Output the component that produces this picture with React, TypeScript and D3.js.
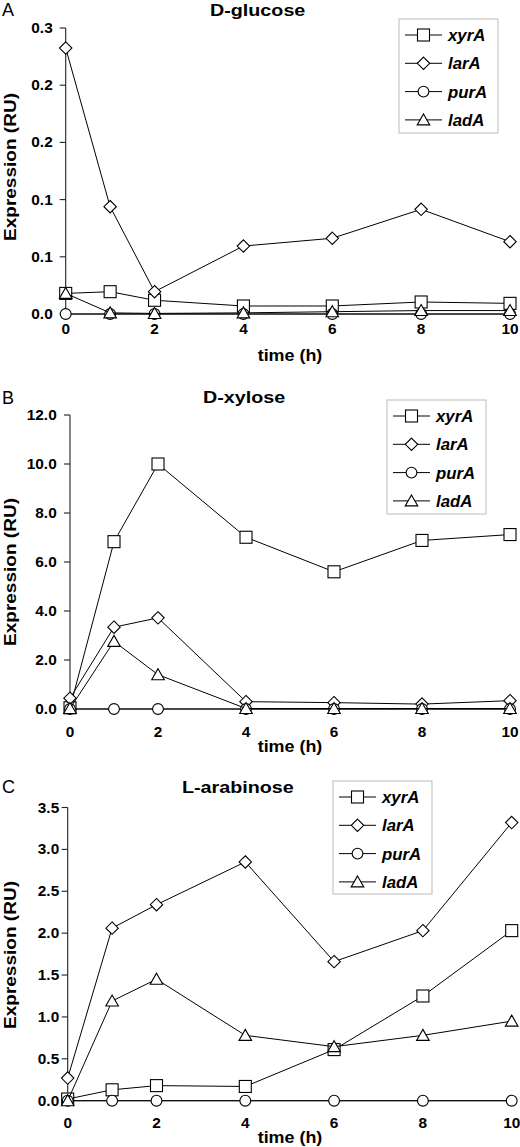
import React from "react";
import * as d3 from "d3";

// ---------- data ----------
const times = [0, 1, 2, 4, 6, 8, 10];
const seriesNames = ["xyrA", "larA", "purA", "ladA"];
const xTickValues = [0, 2, 4, 6, 8, 10];

// Panel A: D-glucose
const glucoseXyrA = [0.018, 0.0195, 0.012, 0.007, 0.007, 0.0105, 0.0093];
const glucoseLarA = [0.2325, 0.0938, 0.0195, 0.0594, 0.0662, 0.0915, 0.0632];
const glucosePurA = [0, 0, 0, 0, 0, 0, 0];
const glucoseLadA = [0.018, 0.001, 0.0005, 0.001, 0.002, 0.003, 0.003];
const glucoseYTicks = [0, 0.05, 0.1, 0.15, 0.2, 0.25];
const glucoseYLabels = ["0.0", "0.1", "0.1", "0.2", "0.2", "0.3"];

// Panel B: D-xylose
const xyloseXyrA = [0.05, 6.83, 10.0, 7.01, 5.6, 6.88, 7.12];
const xyloseLarA = [0.44, 3.34, 3.72, 0.3, 0.26, 0.2, 0.34];
const xylosePurA = [0, 0, 0, 0, 0, 0, 0];
const xyloseLadA = [0.02, 2.76, 1.4, 0.02, 0.02, 0.02, 0.02];
const xyloseYTicks = [0, 2, 4, 6, 8, 10, 12];
const xyloseYLabels = ["0.0", "2.0", "4.0", "6.0", "8.0", "10.0", "12.0"];

// Panel C: L-arabinose
const arabXyrA = [0.02, 0.13, 0.18, 0.17, 0.61, 1.25, 2.03];
const arabLarA = [0.27, 2.06, 2.34, 2.85, 1.66, 2.03, 3.32];
const arabPurA = [0, 0, 0, 0, 0, 0, 0];
const arabLadA = [0.0, 1.19, 1.45, 0.78, 0.645, 0.78, 0.95];
const arabYTicks = [0, 0.5, 1.0, 1.5, 2.0, 2.5, 3.0, 3.5];
const arabYLabels = ["0.0", "0.5", "1.0", "1.5", "2.0", "2.5", "3.0", "3.5"];

// ---------- layout ----------
const panels = [
  {
    letter: "A", title: "D-glucose", titleX: 210, titleY: 15.5, letterY: 16,
    xL: 65.7, xR: 510, yT: 28, yB: 314, yMax: 0.25,
    yTicks: glucoseYTicks, yLabels: glucoseYLabels, labelGap: 13,
    xTickBase: 334, timeBase: 361, yLabelCy: 167,
    legend: { x: 399, y: 19, w: 99, h: 114, y0: 35 },
    data: [glucoseXyrA, glucoseLarA, glucosePurA, glucoseLadA],
  },
  {
    letter: "B", title: "D-xylose", titleX: 203, titleY: 403, letterY: 404,
    xL: 70, xR: 510, yT: 415, yB: 709, yMax: 12,
    yTicks: xyloseYTicks, yLabels: xyloseYLabels, labelGap: 13.3,
    xTickBase: 737, timeBase: 752, yLabelCy: 572,
    legend: { x: 387, y: 400, w: 99, h: 114, y0: 416 },
    data: [xyloseXyrA, xyloseLarA, xylosePurA, xyloseLadA],
  },
  {
    letter: "C", title: "L-arabinose", titleX: 182, titleY: 793, letterY: 793,
    xL: 67.7, xR: 511.7, yT: 807.5, yB: 1100.7, yMax: 3.5,
    yTicks: arabYTicks, yLabels: arabYLabels, labelGap: 8.5,
    xTickBase: 1128, timeBase: 1143, yLabelCy: 955,
    legend: { x: 333, y: 781, w: 99, h: 113, y0: 797 },
    data: [arabXyrA, arabLarA, arabPurA, arabLadA],
  },
];

const FONT = "'Liberation Sans', Arial, Helvetica, sans-serif";

function T(props: any) {
  const { x, y, sx = 1, size, weight = "bold", italic = false, anchor = "start", rotate = 0, children } = props;
  return (
    <text
      transform={`translate(${x},${y}) rotate(${rotate}) scale(${sx},1)`}
      fontFamily={FONT}
      fontSize={size}
      fontWeight={weight}
      fontStyle={italic ? "italic" : "normal"}
      textAnchor={anchor}
      fill="#000"
    >
      {children}
    </text>
  );
}

function Marker({ shape, cx, cy }: { shape: string; cx: number; cy: number }) {
  const common = { fill: "#fff", stroke: "#000", strokeWidth: 1.1 };
  if (shape === "xyrA") {
    return <rect x={cx - 6} y={cy - 6} width={12} height={12} {...common} />;
  }
  if (shape === "larA") {
    const h = 6.2;
    return <path d={`M${cx},${cy - h}L${cx + h},${cy}L${cx},${cy + h}L${cx - h},${cy}Z`} {...common} />;
  }
  if (shape === "purA") {
    return <circle cx={cx} cy={cy} r={5.4} {...common} />;
  }
  return <path d={`M${cx},${cy - 6}L${cx + 6.3},${cy + 5}L${cx - 6.3},${cy + 5}Z`} {...common} />;
}

function Panel({ p }: { p: any }) {
  const x = d3.scaleLinear().domain([0, 10]).range([p.xL, p.xR]);
  const y = d3.scaleLinear().domain([0, p.yMax]).range([p.yB, p.yT]);
  const line = d3.line<number>().x((_, i) => x(times[i])).y((v) => y(v));
  const lg = p.legend;
  const step = 28.3;
  return (
    <g>
      <T x={2} y={p.letterY} size={18} weight="normal">{p.letter}</T>
      <T x={p.titleX} y={p.titleY} size={17} sx={1.16}>{p.title}</T>
      {/* axes */}
      <line x1={p.xL} x2={p.xL} y1={p.yT} y2={p.yB} stroke="#222" strokeWidth={1.1} />
      <line x1={p.xL} x2={p.xR} y1={p.yB} y2={p.yB} stroke="#222" strokeWidth={1.1} />
      {p.yTicks.map((t: number, i: number) => (
        <g key={i}>
          <line x1={p.xL - 6} x2={p.xL} y1={y(t)} y2={y(t)} stroke="#222" strokeWidth={1.1} />
          <T x={p.xL - p.labelGap} y={y(t) + 5} size={14} sx={1.1} anchor="end">{p.yLabels[i]}</T>
        </g>
      ))}
      {xTickValues.map((t) => (
        <T key={t} x={x(t)} y={p.xTickBase} size={14} sx={1.1} anchor="middle">{String(t)}</T>
      ))}
      <T x={290} y={p.timeBase} size={16} sx={1.12} anchor="middle">time (h)</T>
      <T x={16} y={p.yLabelCy} size={17} sx={1.12} anchor="middle" rotate={-90}>Expression (RU)</T>
      {/* series */}
      {p.data.map((vals: number[], si: number) => (
        <g key={si}>
          <path d={line(vals) || ""} fill="none" stroke="#000" strokeWidth={1} />
          {vals.map((v, i) => (
            <Marker key={i} shape={seriesNames[si]} cx={x(times[i])} cy={y(v)} />
          ))}
        </g>
      ))}
      {/* legend */}
      <rect x={lg.x} y={lg.y} width={lg.w} height={lg.h} fill="#fff" stroke="#bbb" strokeWidth={1} />
      {seriesNames.map((s, i) => {
        const cy = lg.y0 + i * step;
        return (
          <g key={s}>
            <line x1={lg.x + 6} x2={lg.x + 43} y1={cy} y2={cy} stroke="#000" strokeWidth={1} />
            <Marker shape={s} cx={lg.x + 24.5} cy={cy} />
            <T x={lg.x + 49} y={cy + 6} size={16} sx={1.05} italic>{s}</T>
          </g>
        );
      })}
    </g>
  );
}

export default function App() {
  return (
    <svg
      width={520}
      height={1147}
      viewBox="0 0 520 1147"
      style={{ position: "absolute", left: 0, top: 0, background: "#fff" }}
    >
      <rect x={0} y={0} width={520} height={1147} fill="#fff" />
      {panels.map((p) => (
        <Panel key={p.letter} p={p} />
      ))}
    </svg>
  );
}
